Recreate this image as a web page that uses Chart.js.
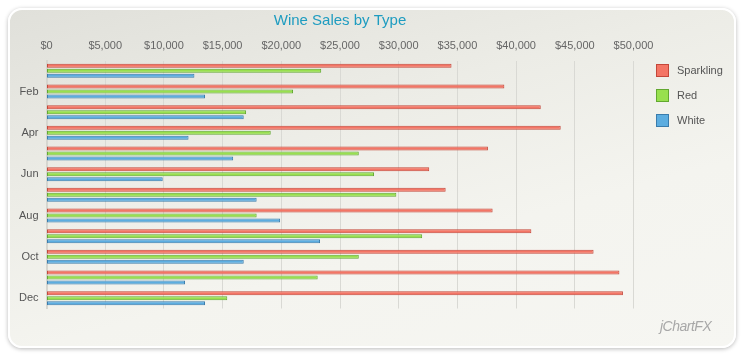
<!DOCTYPE html>
<html lang="en">

<head>
    <meta charset="UTF-8">
    <title>Wine Sales by Type</title>
    <script src="https://cdn.jsdelivr.net/npm/chart.js"></script>
    <style>
        html, body {
            margin: 0;
            padding: 0;
            background: #ffffff;
        }

        #wrap {
            position: relative;
            width: 750px;
            height: 360px;
            overflow: hidden;
            font-family: "Liberation Sans", Arial, sans-serif;
        }

        /* cartão com cantos arredondados */
        .cartao {
            position: absolute;
            left: 8px;
            top: 8px;
            width: 724px;
            height: 336px;
            border: 2px solid #ffffff;
            border-radius: 14px;
            box-shadow: 0 1px 4px rgba(0, 0, 0, 0.28);
            background: linear-gradient(165deg, #e0e0da 0%, #ecece6 35%, #f4f4ef 65%, #f6f6f2 100%);
        }

        #grafico {
            position: absolute;
            left: 0;
            top: 0;
        }

        #legenda {
            position: absolute;
            left: 656px;
            top: 64px;
        }

        .itemLegenda {
            height: 25px;
            font-size: 11px;
            color: #555555;
            position: relative;
        }

        .itemLegenda span.caixa {
            position: absolute;
            left: 0;
            top: 0;
            width: 11px;
            height: 11px;
            border: 1px solid;
        }

        .itemLegenda span.texto {
            position: absolute;
            left: 21px;
            top: 0;
            line-height: 13px;
        }

        .marca {
            position: absolute;
            left: 660px;
            top: 318px;
            font-size: 14px;
            font-style: italic;
            color: #a8a8a8;
            letter-spacing: -0.5px;
        }
    </style>
</head>

<body>
    <div id="wrap">
        <div class="cartao"></div>
        <canvas id="grafico" width="750" height="360"></canvas>
        <div id="legenda"></div>
        <div class="marca">jChartFX</div>
    </div>

    <script>
        // Dados do gráfico
        const meses = ['Jan', 'Feb', 'Mar', 'Apr', 'May', 'Jun', 'Jul', 'Aug', 'Sep', 'Oct', 'Nov', 'Dec'];

        const sparkling = [34500, 39000, 42100, 43800, 37600, 32600, 34000, 38000, 41300, 46600, 48800, 49100];
        const red = [23400, 21000, 17000, 19100, 26600, 27900, 29800, 17900, 32000, 26600, 23100, 15400];
        const white = [12600, 13500, 16800, 12100, 15900, 9900, 17900, 19900, 23300, 16800, 11800, 13500];

        const eixoMin = 0;
        const eixoMax = 50000;
        const eixoPasso = 5000;

        Chart.defaults.font.family = '"Liberation Sans", Arial, sans-serif';

        const dataBarras = {
            labels: meses,
            datasets: [
                {
                    label: 'Sparkling',
                    data: sparkling,
                    backgroundColor: '#f47565',
                    borderColor: '#c4473a'
                },
                {
                    label: 'Red',
                    data: red,
                    backgroundColor: '#98e04e',
                    borderColor: '#62a830'
                },
                {
                    label: 'White',
                    data: white,
                    backgroundColor: '#5cade0',
                    borderColor: '#3a7cac'
                }
            ]
        };

        const configBarras = {
            type: 'bar',
            data: dataBarras,
            options: {
                indexAxis: 'y',
                responsive: false,
                animation: false,
                events: [],
                datasets: {
                    bar: {
                        borderWidth: 1,
                        borderSkipped: false,
                        categoryPercentage: 0.7257,
                        barPercentage: 0.8
                    }
                },
                layout: {
                    padding: {
                        top: 0,
                        left: 0,
                        right: 116.5,
                        bottom: 51.5
                    }
                },
                plugins: {
                    legend: {
                        display: false
                    },
                    tooltip: {
                        enabled: false
                    },
                    title: {
                        display: true,
                        fullSize: false,
                        text: 'Wine Sales by Type',
                        color: '#1e9cc0',
                        font: {
                            size: 15,
                            weight: 'normal'
                        },
                        padding: {
                            top: 12,
                            bottom: 0
                        }
                    }
                },
                scales: {
                    x: {
                        position: 'top',
                        min: eixoMin,
                        max: eixoMax,
                        afterFit: function (eixo) {
                            eixo.height = 30.5;
                        },
                        ticks: {
                            stepSize: eixoPasso,
                            color: '#666666',
                            padding: 8,
                            font: {
                                size: 11
                            },
                            callback: function (valor) {
                                return '$' + valor.toLocaleString('en-US');
                            }
                        },
                        grid: {
                            color: '#d9d9d4',
                            lineWidth: 1,
                            drawTicks: false
                        },
                        border: {
                            display: false
                        }
                    },
                    y: {
                        afterFit: function (eixo) {
                            eixo.width = 46.5;
                        },
                        ticks: {
                            autoSkip: false,
                            color: '#555555',
                            padding: 8,
                            font: {
                                size: 11
                            },
                            callback: function (valor, indice) {
                                // só mostra os meses pares (Feb, Apr, ...)
                                return indice % 2 == 1 ? meses[indice] : '';
                            }
                        },
                        grid: {
                            display: false,
                            drawTicks: false
                        },
                        border: {
                            display: true,
                            color: '#d6d6d0',
                            width: 2
                        }
                    }
                }
            }
        };

        const GraficoBarras = new Chart(
            document.getElementById('grafico'),
            configBarras
        );

        // Legenda em HTML feita a partir dos datasets
        var legenda = document.getElementById('legenda');
        GraficoBarras.data.datasets.forEach(function (ds) {
            var item = document.createElement('div');
            item.className = 'itemLegenda';
            item.innerHTML = `<span class="caixa" style="background:${ds.backgroundColor};border-color:${ds.borderColor}"></span>` +
                `<span class="texto">${ds.label}</span>`;
            legenda.appendChild(item);
        });
    </script>
</body>

</html>
